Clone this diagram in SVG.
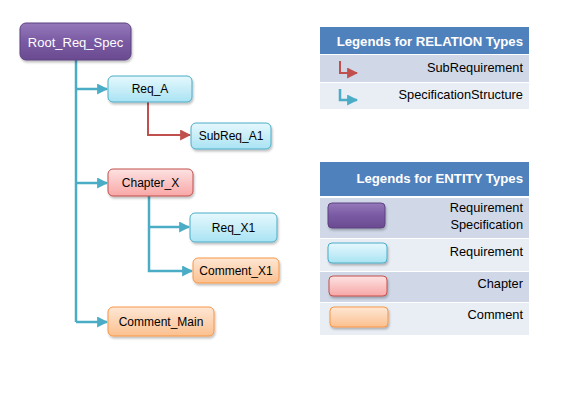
<svg xmlns="http://www.w3.org/2000/svg" width="561" height="403" viewBox="0 0 561 403">
<defs>
<linearGradient id="gP" x1="0" y1="0" x2="0" y2="1"><stop offset="0" stop-color="#9479ba"/><stop offset="0.5" stop-color="#7a5aa3"/><stop offset="1" stop-color="#6a4b91"/></linearGradient>
<linearGradient id="gC" x1="0" y1="0" x2="0" y2="1"><stop offset="0" stop-color="#e6f8fd"/><stop offset="1" stop-color="#a9e3f3"/></linearGradient>
<linearGradient id="gR" x1="0" y1="0" x2="0" y2="1"><stop offset="0" stop-color="#fde2e2"/><stop offset="1" stop-color="#f7a7a6"/></linearGradient>
<linearGradient id="gO" x1="0" y1="0" x2="0" y2="1"><stop offset="0" stop-color="#fee7d5"/><stop offset="1" stop-color="#fbc08f"/></linearGradient>
<filter id="sh" x="-10%" y="-10%" width="130%" height="140%"><feDropShadow dx="1" dy="2" stdDeviation="1.2" flood-color="#000" flood-opacity="0.25"/></filter>
<marker id="aB" viewBox="0 0 10 10" refX="9" refY="5" markerWidth="11" markerHeight="11" markerUnits="userSpaceOnUse" orient="auto"><path d="M0,0 L10,5 L0,10 Z" fill="#4bacc6"/></marker>
<marker id="aR" viewBox="0 0 10 10" refX="9" refY="5" markerWidth="11" markerHeight="11" markerUnits="userSpaceOnUse" orient="auto"><path d="M0,0 L10,5 L0,10 Z" fill="#c0504d"/></marker>
</defs>
<style>
text{font-family:"Liberation Sans",Arial,sans-serif;font-size:12px;fill:#000}
.n{text-anchor:middle}
.w{fill:#fff;font-size:13px}
.h{fill:#fff;font-weight:bold;font-size:13.2px;text-anchor:end}
.r{text-anchor:end;font-size:12.8px}
.p{fill:url(#gP);stroke:#5c4380;stroke-width:1}
.c{fill:url(#gC);stroke:#4bacc6;stroke-width:1}
.k{fill:url(#gR);stroke:#c0504d;stroke-width:1}
.o{fill:url(#gO);stroke:#f79646;stroke-width:1}
.bl{fill:none;stroke:#4bacc6;stroke-width:2.5}
.rd{fill:none;stroke:#c0504d;stroke-width:2}
</style>
<rect width="561" height="403" fill="#fff"/>
<g id="connectors">
<path class="bl" d="M76,60 V322"/>
<path class="bl" d="M76,89 H107" marker-end="url(#aB)"/>
<path class="bl" d="M76,183 H107" marker-end="url(#aB)"/>
<path class="bl" d="M76,322 H107" marker-end="url(#aB)"/>
<path class="rd" d="M148,102 V135 H190" marker-end="url(#aR)"/>
<path class="bl" d="M149,196 V271 H192" marker-end="url(#aB)"/>
<path class="bl" d="M149,227 H189" marker-end="url(#aB)"/>
</g>
<g id="root"><rect class="p" x="20" y="23" width="111" height="37" rx="6" filter="url(#sh)"/><text class="n w" x="75.5" y="46.5">Root_Req_Spec</text></g>
<g id="reqA"><rect class="c" x="108" y="76" width="84" height="26" rx="5" filter="url(#sh)"/><text class="n" x="150" y="93">Req_A</text></g>
<g id="subReqA1"><rect class="c" x="191" y="123" width="80" height="26" rx="5" filter="url(#sh)"/><text class="n" x="231" y="140">SubReq_A1</text></g>
<g id="chapterX"><rect class="k" x="108" y="169" width="85" height="27" rx="5" filter="url(#sh)"/><text class="n" x="150.5" y="187">Chapter_X</text></g>
<g id="reqX1"><rect class="c" x="190" y="213" width="87" height="29" rx="5" filter="url(#sh)"/><text class="n" x="233.5" y="231.5">Req_X1</text></g>
<g id="commentX1"><rect class="o" x="193" y="258" width="86" height="25" rx="5" filter="url(#sh)"/><text class="n" x="236" y="275">Comment_X1</text></g>
<g id="commentMain"><rect class="o" x="108" y="307" width="106" height="29" rx="5" filter="url(#sh)"/><text class="n" x="161" y="326">Comment_Main</text></g>
<g id="legendRelation">
<rect x="320" y="27" width="209" height="27" fill="#4f81bd"/>
<text class="h" x="523" y="45.5">Legends for RELATION Types</text>
<rect x="320" y="55" width="209" height="27" fill="#d0d8e8"/>
<rect x="320" y="83" width="209" height="26" fill="#e9edf4"/>
<path class="rd" d="M340,61 V73 H357" marker-end="url(#aR)"/>
<path class="bl" d="M340,89 V100 H357" marker-end="url(#aB)"/>
<text class="r" x="523" y="72">SubRequirement</text>
<text class="r" x="523" y="99">SpecificationStructure</text>
</g>
<g id="legendEntity">
<rect x="320" y="162" width="209" height="34" fill="#4f81bd"/>
<text class="h" x="523" y="183">Legends for ENTITY Types</text>
<rect x="320" y="198" width="209" height="40" fill="#d0d8e8"/>
<rect x="320" y="239" width="209" height="32" fill="#e9edf4"/>
<rect x="320" y="272" width="209" height="30" fill="#d0d8e8"/>
<rect x="320" y="303" width="209" height="32" fill="#e9edf4"/>
<rect class="p" x="328" y="203" width="57" height="25" rx="4" filter="url(#sh)"/>
<rect class="c" x="328" y="243" width="59" height="20" rx="4" filter="url(#sh)"/>
<rect class="k" x="329" y="276" width="58" height="20" rx="4" filter="url(#sh)"/>
<rect class="o" x="330" y="307" width="58" height="20" rx="4" filter="url(#sh)"/>
<text class="r" x="523" y="212">Requirement</text>
<text class="r" x="523" y="229">Specification</text>
<text class="r" x="523" y="256">Requirement</text>
<text class="r" x="523" y="288">Chapter</text>
<text class="r" x="523" y="319">Comment</text>
</g>
</svg>
